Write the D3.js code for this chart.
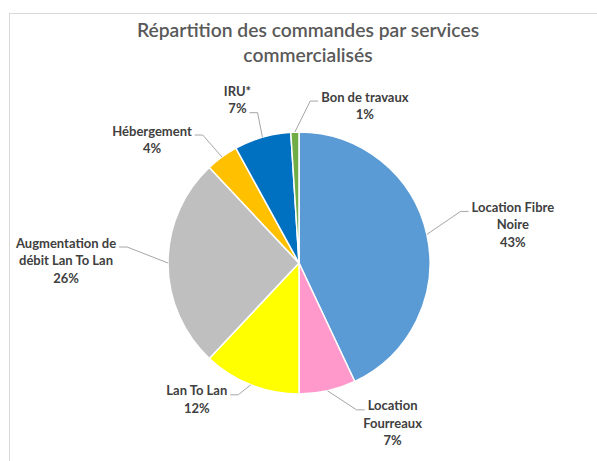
<!DOCTYPE html>
<html>
<head>
<meta charset="utf-8">
<script src="https://cdn.jsdelivr.net/npm/d3@7"></script>
<style>
  body { margin: 0; background: #fff; }
  svg { display: block; }
</style>
</head>
<body>
<svg id="chart"></svg>
<script>
// data
const services = ['Location Fibre Noire', 'Location Fourreaux', 'Lan To Lan',
  'Augmentation de débit Lan To Lan', 'Hébergement', 'IRU*', 'Bon de travaux'];
const shares = [43, 7, 12, 26, 4, 7, 1];
const colors = ['#5b9bd5', '#ff99cc', '#ffff00', '#bfbfbf', '#ffc000', '#0070c0', '#70ad47'];
// label text lines as drawn by the chart
const labelLines = [
  ['Location Fibre', 'Noire'],
  ['Location', 'Fourreaux'],
  ['Lan To Lan'],
  ['Augmentation de', 'débit Lan To Lan'],
  ['Hébergement'],
  ['IRU*'],
  ['Bon de travaux']
];

// layout
const W = 597, H = 461;
const CX = 299, CY = 263, R = 131;
const LINE_H = 17.5;
// label block offsets from the slice edge point: [dx of block centre, dy of first row centre]
const labelOffset = [[86, -27], [65, 15], [-54, 6], [-102, -20], [-70, -26], [-25, -46], [70, -35]];
// which row the leader line attaches to
const leaderRow = [0, 0, 0, 0, 0, 1, 0];

var svg = d3.select('#chart').attr('width', W).attr('height', H);

// frame
svg.append('rect')
  .attr('x', 9.5).attr('y', 13.5)
  .attr('width', 620).attr('height', 480)
  .attr('fill', 'none')
  .attr('stroke', '#d9d9d9')
  .attr('stroke-width', 1);

// title
var title = svg.append('text')
  .attr('text-anchor', 'middle')
  .style('font-family', 'Lato, "Open Sans", sans-serif')
  .style('font-size', '19.3px')
  .style('font-weight', '600')
  .style('fill', '#595959');
title.append('tspan').attr('x', 308).attr('y', 36.5).text('Répartition des commandes par services');
title.append('tspan').attr('x', 308).attr('y', 61.5).text('commercialisés');

// pie
var pie = d3.pie().sort(null).value(function(d) { return d; });
var arcs = pie(shares);
var arc = d3.arc().innerRadius(0).outerRadius(R);
var edge = d3.arc().innerRadius(R).outerRadius(R);

var g = svg.append('g').attr('transform', 'translate(' + CX + ',' + CY + ')');

g.selectAll('path.slice')
  .data(arcs)
  .enter()
  .append('path')
  .attr('class', 'slice')
  .attr('d', arc)
  .attr('fill', function(d, i) { return colors[i]; })
  .attr('stroke', '#fff')
  .attr('stroke-width', 1.5);

// labels
var labels = g.selectAll('g.label')
  .data(arcs)
  .enter()
  .append('g')
  .attr('class', 'label');

labels.each(function(d, i) {
  var p = edge.centroid(d);
  var bx = p[0] + labelOffset[i][0];
  var by = p[1] + labelOffset[i][1];
  var rows = labelLines[i].concat([d.data + '%']);
  var lab = d3.select(this);
  var widths = [];
  rows.forEach(function(t, k) {
    var txt = lab.append('text')
      .attr('x', bx)
      .attr('y', by + k * LINE_H)
      .attr('dy', '0.35em')
      .attr('text-anchor', 'middle')
      .style('font-family', 'Lato, "Open Sans", sans-serif')
      .style('font-weight', 'bold')
      .style('font-size', '13px')
      .style('fill', '#404040')
      .text(t);
    widths.push(txt.node().getComputedTextLength());
  });

  // leader line: diagonal from the slice edge, then a short horizontal run to the text
  var row = leaderRow[i];
  var side = bx > p[0] ? -1 : 1;
  var ly = by + row * LINE_H + 4;
  var lx = bx + side * (widths[row] / 2 + 3);
  var ex = lx + side * 8;
  lab.insert('path', 'text')
    .attr('d', 'M' + p[0] + ',' + p[1] + 'L' + ex + ',' + ly + 'L' + lx + ',' + ly)
    .attr('fill', 'none')
    .attr('stroke', '#a6a6a6')
    .attr('stroke-width', 1);
});
</script>
</body>
</html>
